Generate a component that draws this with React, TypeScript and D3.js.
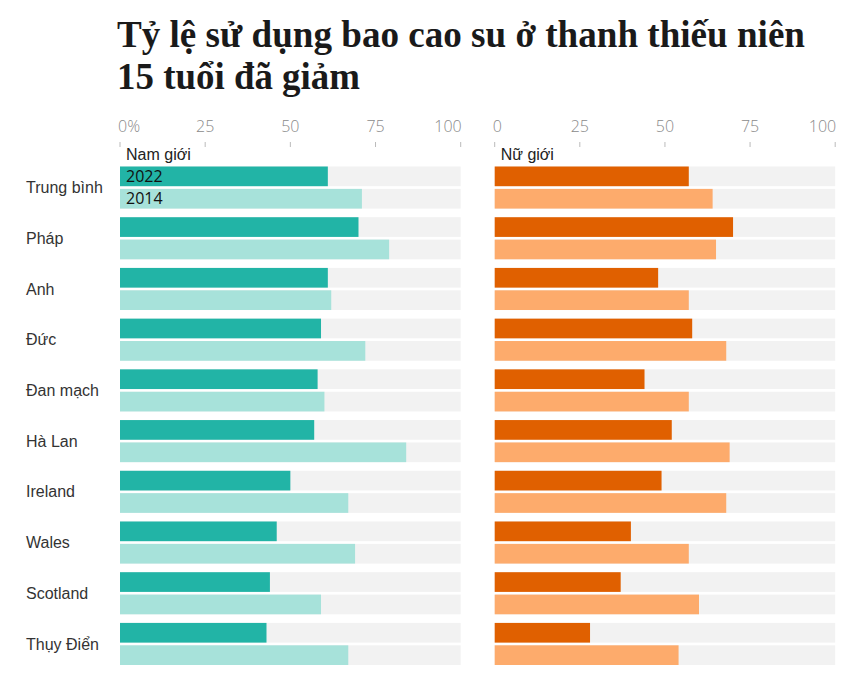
import React from "react";
import * as d3 from "d3";

const categories = ["Trung bình", "Pháp", "Anh", "Đức", "Đan mạch", "Hà Lan", "Ireland", "Wales", "Scotland", "Thụy Điển"];
const years = ["2022", "2014"];
const male2022 = [61, 70, 61, 59, 58, 57, 50, 46, 44, 43];
const male2014 = [71, 79, 62, 72, 60, 84, 67, 69, 59, 67];
const female2022 = [57, 70, 48, 58, 44, 52, 49, 40, 37, 28];
const female2014 = [64, 65, 57, 68, 57, 69, 68, 57, 60, 54];
const ticks = [0, 25, 50, 75, 100];
const titleLines = ["Tỷ lệ sử dụng bao cao su ở thanh thiếu niên", "15 tuổi đã giảm"];

const W = 867;
const H = 681;

const panels = [
  { key: "m", label: "Nam giới", range: [120, 460.7], v2022: male2022, v2014: male2014, c2022: "#22b4a6", c2014: "#a7e2da", firstTick: "0%", showYears: true },
  { key: "f", label: "Nữ giới", range: [494.7, 835.2], v2022: female2022, v2014: female2014, c2022: "#e06000", c2014: "#fdab6c", firstTick: "0", showYears: false },
];

export default function App() {
  const y = d3.scaleBand<string>().domain(categories).range([166.5, 665]).paddingInner(0.17).paddingOuter(0);
  const yi = d3.scaleBand<string>().domain(years).range([0, y.bandwidth()]).paddingInner(0.12);
  const sans = "'Liberation Sans', Arial, sans-serif";
  const light = "'Open Sans', sans-serif";

  return (
    <svg width={W} height={H} style={{ position: "absolute", left: 0, top: 0, background: "#fff" }}>
      {titleLines.map((t, i) => (
        <text
          key={i}
          x={117}
          y={47 + i * 42}
          fontFamily="'Liberation Serif', 'Times New Roman', serif"
          fontWeight="bold"
          fontSize={37}
          fill="#1a1a1a"
          textLength={i === 0 ? 688 : 243}
          lengthAdjust="spacingAndGlyphs"
        >
          {t}
        </text>
      ))}

      {categories.map((c) => (
        <text key={c} x={26} y={(y(c) as number) + y.bandwidth() / 2} dy="0.35em" fontFamily={sans} fontSize={16} fill="#333">
          {c}
        </text>
      ))}

      {panels.map((p) => {
        const x = d3.scaleLinear().domain([0, 100]).range(p.range);
        return (
          <g key={p.key}>
            {ticks.map((t, i) => (
              <g key={t}>
                <text
                  x={i === 0 ? x(t) - 2 : i === ticks.length - 1 ? x(t) + 1 : x(t)}
                  y={131.5}
                  textAnchor={i === 0 ? "start" : i === ticks.length - 1 ? "end" : "middle"}
                  fontFamily={light}
                  fontWeight={300}
                  fontSize={16}
                  fill="#8a8a8a"
                >
                  {i === 0 ? p.firstTick : String(t)}
                </text>
                <line x1={x(t)} x2={x(t)} y1={142} y2={147} stroke="#bbb" strokeWidth={1} />
              </g>
            ))}
            <text x={x(0) + 6} y={159.5} fontFamily={sans} fontSize={16} fill="#222">
              {p.label}
            </text>
            {categories.map((c, ci) => (
              <g key={c} transform={`translate(0,${y(c)})`}>
                {years.map((yr) => {
                  const v = yr === "2022" ? p.v2022[ci] : p.v2014[ci];
                  const col = yr === "2022" ? p.c2022 : p.c2014;
                  return (
                    <g key={yr}>
                      <rect x={x(0)} y={yi(yr)} width={x(100) - x(0)} height={yi.bandwidth()} fill="#f2f2f2" />
                      <rect x={x(0)} y={yi(yr)} width={x(v) - x(0)} height={yi.bandwidth()} fill={col} />
                      {p.showYears && ci === 0 ? (
                        <text x={x(0) + 6} y={(yi(yr) as number) + yi.bandwidth() / 2} dy="0.36em" fontFamily={light} fontSize={16} fill="#111">
                          {yr}
                        </text>
                      ) : null}
                    </g>
                  );
                })}
              </g>
            ))}
          </g>
        );
      })}
    </svg>
  );
}
